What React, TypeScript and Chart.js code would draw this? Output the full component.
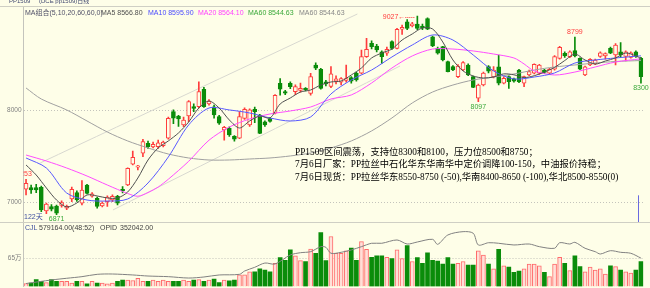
import React, { useEffect, useRef } from "react";
import { Chart, registerables } from "chart.js";

Chart.register(...registerables);

// ---------------- data ----------------
const opens = [
  7146, 7163, 7165, 7167, 6910, 6957, 6964, 6970, 6940, 7040,
  7109, 6995, 7192, 7070, 7048, 6965, 7011, 7030, 7070, 7145,
  7192, 7420, 7385, 7537, 7646, 7605, 7610, 7620, 7700, 7990,
  7942, 7845, 7942, 8045, 8043, 8233, 8073, 8043, 7935, 7790,
  7809, 7720, 7700, 7917, 7845, 8015, 7953, 7880, 7915, 7972,
  8298, 8207, 8298, 8207, 8220, 8243, 8189, 8497, 8450, 8315,
  8265, 8320, 8310, 8330, 8360, 8405, 8407, 8587, 8732, 8703,
  8641, 8624, 8750, 8678, 8885, 8967, 8921, 8942, 8920, 9000,
  8804, 8678, 8696, 8533, 8480, 8370, 8442, 8497, 8370, 8135,
  8279, 8480, 8370, 8478, 8298, 8370, 8345, 8442, 8298, 8390,
  8407, 8407, 8440, 8407, 8450, 8569, 8624, 8587, 8652, 8569,
  8388, 8497, 8507, 8590, 8595, 8678, 8605, 8640, 8590, 8580,
  8640, 8570,
];
const highs = [
  7253, 7192, 7200, 7180, 6995, 6980, 6975, 7020, 6975, 7170,
  7130, 7240, 7200, 7110, 7060, 7010, 7075, 7085, 7080, 7175,
  7380, 7560, 7405, 7690, 7670, 7660, 7680, 7670, 7930, 8010,
  7950, 7930, 8110, 8075, 8315, 8254, 8120, 8060, 7950, 7830,
  7825, 7730, 7989, 8030, 8020, 8040, 7960, 7890, 7925, 8175,
  8350, 8220, 8315, 8280, 8300, 8250, 8406, 8520, 8460, 8330,
  8480, 8380, 8360, 8497, 8370, 8420, 8660, 8787, 8760, 8720,
  8650, 8690, 8760, 8895, 8930, 8990, 8960, 9027, 8940, 9010,
  8810, 8690, 8700, 8540, 8490, 8500, 8535, 8510, 8375, 8290,
  8420, 8490, 8480, 8605, 8370, 8380, 8355, 8450, 8375, 8440,
  8510, 8505, 8450, 8460, 8600, 8700, 8640, 8650, 8799, 8575,
  8485, 8565, 8560, 8640, 8630, 8690, 8730, 8740, 8650, 8640,
  8650, 8580,
];
const lows = [
  7084, 7102, 7110, 6902, 6880, 6910, 6871, 6950, 6925, 7010,
  7015, 6975, 7095, 7060, 6940, 6955, 6960, 7010, 6975, 7105,
  7185, 7410, 7355, 7500, 7590, 7595, 7590, 7605, 7690, 7860,
  7830, 7826, 7880, 7990, 8030, 8035, 8060, 7920, 7850, 7680,
  7720, 7670, 7695, 7905, 7830, 7870, 7750, 7830, 7875, 7965,
  8170, 8175, 8240, 8175, 8200, 8215, 8170, 8445, 8235, 8270,
  8250, 8290, 8280, 8310, 8300, 8320, 8400, 8580, 8670, 8640,
  8515, 8600, 8665, 8670, 8830, 8880, 8910, 8880, 8880, 8880,
  8695, 8615, 8540, 8420, 8435, 8360, 8435, 8380, 8250, 8097,
  8270, 8410, 8355, 8280, 8290, 8243, 8310, 8305, 8260, 8380,
  8400, 8395, 8405, 8400, 8440, 8560, 8580, 8575, 8585, 8445,
  8380, 8490, 8500, 8580, 8560, 8620, 8497, 8580, 8540, 8570,
  8580, 8300,
];
const closes = [
  7211, 7138, 7138, 6921, 6985, 6930, 6885, 7000, 6960, 7146,
  7030, 7138, 7102, 7095, 6960, 6995, 7060, 7070, 6995, 7130,
  7374, 7493, 7400, 7663, 7610, 7635, 7650, 7660, 7917, 7920,
  7910, 7899, 8098, 8025, 8207, 8045, 8105, 7955, 7863, 7819,
  7736, 7690, 7935, 8015, 8008, 7990, 7754, 7845, 7882, 8166,
  8233, 8190, 8260, 8261, 8243, 8225, 8370, 8461, 8243, 8290,
  8400, 8345, 8350, 8350, 8320, 8335, 8587, 8667, 8696, 8660,
  8587, 8667, 8678, 8885, 8905, 8895, 8945, 8895, 8900, 8885,
  8703, 8624, 8551, 8424, 8442, 8485, 8522, 8388, 8254, 8279,
  8410, 8430, 8440, 8298, 8352, 8315, 8320, 8315, 8370, 8424,
  8505, 8497, 8415, 8450, 8587, 8689, 8595, 8641, 8595, 8450,
  8478, 8558, 8551, 8630, 8620, 8624, 8714, 8605, 8640, 8630,
  8590, 8370,
];
// volume in 万手
const volumes = [
  7, 8, 16, 12, 9, 16, 12, 12, 12, 8,
  12, 12, 6, 12, 8, 8, 6, 8, 12, 15,
  15, 14, 19, 12, 12, 15, 12, 15, 12, 12,
  12, 15, 12, 15, 16, 12, 15, 17, 9, 15,
  13, 15, 27, 27, 34, 34, 41, 38, 34, 54,
  67, 61, 85, 71, 60, 58, 87, 77, 125, 60,
  116, 77, 77, 83, 89, 61, 104, 86, 68, 71,
  71, 68, 65, 85, 65, 95, 58, 67, 54, 78,
  61, 59, 52, 67, 52, 54, 58, 50, 50, 83,
  73, 52, 41, 86, 48, 45, 33, 36, 41, 52,
  52, 48, 33, 23, 52, 68, 54, 37, 71, 46,
  34, 45, 38, 41, 29, 48, 46, 38, 34, 31,
  38, 57.9,
];
const days = opens.map((_, i) => String(i + 1));

// moving averages: [day index, value]
const ma5: [number, number][] = [
  [0, 7410], [2, 7301], [4, 7160], [6, 7029], [8, 6953], [10, 6997], [12, 7084], [14, 7073],
  [16, 7051], [18, 7051], [20, 7116], [22, 7268], [24, 7464], [26, 7595], [28, 7671], [30, 7758],
  [32, 7877], [34, 8029], [36, 8105], [38, 8029], [40, 7899], [42, 7812], [44, 7888], [46, 7942],
  [48, 7921], [50, 8073], [52, 8138], [54, 8203], [56, 8225], [58, 8279], [60, 8312], [62, 8323],
  [64, 8388], [66, 8464], [68, 8573], [70, 8627], [72, 8670], [74, 8768], [76, 8834], [78, 8899],
  [80, 8888], [82, 8747], [84, 8551], [86, 8432], [88, 8377], [90, 8355], [92, 8366], [94, 8400],
  [96, 8390], [98, 8360], [100, 8380], [102, 8420], [104, 8470], [106, 8545], [108, 8616], [110, 8551],
  [112, 8507], [114, 8540], [116, 8573], [118, 8627], [120, 8595], [121, 8567],
];
const ma10: [number, number][] = [
  [0, 7486], [4, 7377], [8, 7105], [12, 7029], [16, 7018], [20, 7040], [24, 7214], [28, 7497],
  [32, 7845], [36, 8029], [40, 8008], [44, 7975], [48, 7921], [52, 7888], [56, 7932], [60, 8182],
  [64, 8334], [68, 8442], [72, 8584], [76, 8714], [80, 8823], [84, 8768], [88, 8605], [92, 8432],
  [96, 8345], [100, 8366], [104, 8410], [108, 8518], [112, 8551], [116, 8573], [121, 8596],
];
const ma20: [number, number][] = [
  [0, 7518], [4, 7453], [8, 7377], [12, 7290], [16, 7192], [20, 7100], [22, 7070], [24, 7110],
  [26, 7170], [28, 7255], [32, 7450], [36, 7679], [40, 7822], [44, 7910], [48, 7964], [52, 7997],
  [56, 8040], [60, 8127], [64, 8171], [68, 8301], [72, 8464], [76, 8595], [80, 8670], [84, 8670],
  [88, 8649], [92, 8616], [96, 8573], [98, 8508], [100, 8432], [104, 8388], [108, 8420], [112, 8475],
  [116, 8529], [121, 8564],
];
const ma60: [number, number][] = [
  [0, 8247], [3, 8127], [8, 8008], [12, 7888], [16, 7768], [20, 7671], [24, 7595], [28, 7529],
  [32, 7486], [36, 7464], [40, 7464], [44, 7475], [48, 7486], [52, 7508], [56, 7540], [60, 7595],
  [64, 7671], [68, 7780], [72, 7921], [76, 8084], [80, 8203], [84, 8279], [88, 8334], [92, 8366],
  [96, 8399], [100, 8442], [104, 8475], [108, 8497], [112, 8518], [116, 8535], [121, 8545],
];
// open interest (持仓)
const opid: [number, number][] = [
  [0, 37000], [5, 81000], [8, 102000], [11, 122000], [14, 151000], [17, 155000], [21, 143000],
  [24, 130000], [28, 122000], [32, 105000], [35, 118000], [38, 143000], [42, 151000], [43, 192000],
  [45, 238000], [47, 291000], [49, 279000], [52, 391000], [54, 419000], [56, 432000], [58, 494000],
  [59, 486000], [60, 412000], [62, 424000], [64, 453000], [66, 494000], [68, 536000], [70, 536000],
  [73, 577000], [75, 527000], [77, 552000], [80, 585000], [81, 523000], [83, 639000], [86, 680000],
  [88, 660000], [89, 515000], [91, 543000], [93, 536000], [96, 515000], [99, 527000], [101, 494000],
  [104, 474000], [105, 543000], [107, 527000], [108, 548000], [110, 474000], [112, 432000],
  [113, 403000], [115, 444000], [117, 424000], [119, 412000], [121, 352042],
];
// trend channel drawn on the chart
const channelUpper: [number, number][] = [[2.8, 7432], [65.2, 9051]];
const channelLower: [number, number][] = [[17.1, 6921], [73.6, 8486]];

const priceTicks = [7000, 8000];
const volumeTicks = [65];
const pricePaneBottom = 6790; // lower edge of the price pane
const cursorDay = 120.5;
const cursorFrom = 7080;

const RED = "#ff3c3c";
const GREEN = "#0a8c0a";
const GREEN_TXT = "#3aa83a";
const BG = "#fefee8";
const VOL_RED_FILL = "#ffe0d8";
const VOL_RED_LINE = "#ff6a6a";
const GRID = "#c4c4bc";

const markers = [
  { i: 0, v: 7253, side: "above", color: RED, dx: -2 },
  { i: 6, v: 6871, side: "below", color: GREEN_TXT, dx: 0 },
  { i: 77, v: 9027, side: "left", color: RED, dx: 0 },
  { i: 89, v: 8097, side: "below", color: GREEN_TXT, dx: 0 },
  { i: 108, v: 8799, side: "above", color: RED, dx: 0 },
  { i: 121, v: 8300, side: "below", color: GREEN_TXT, dx: 0 },
];

const SANS = "'Liberation Sans', 'Noto Sans CJK SC', sans-serif";

const overlayPlugin = {
  id: "overlay",
  beforeDatasetsDraw(chart: any) {
    const { ctx, chartArea, scales } = chart;
    ctx.save();
    ctx.strokeStyle = "#cfcfc4";
    ctx.lineWidth = 1;
    ctx.beginPath();
    const t = Math.round(chartArea.top) - 0.5;
    ctx.moveTo(0, t);
    ctx.lineTo(chart.width, t);
    const s = Math.round(scales.y.getPixelForValue(pricePaneBottom)) + 0.5;
    ctx.moveTo(0, s);
    ctx.lineTo(chart.width, s);
    ctx.stroke();
    // volume pane grid + labels
    ctx.strokeStyle = GRID;
    ctx.setLineDash([1, 2]);
    ctx.fillStyle = "#808080";
    ctx.font = "6.5px " + SANS;
    ctx.textAlign = "right";
    ctx.textBaseline = "middle";
    for (const v of volumeTicks) {
      const y = Math.round(scales.yv.getPixelForValue(v)) + 0.5;
      ctx.beginPath();
      ctx.moveTo(chartArea.left, y);
      ctx.lineTo(chartArea.right, y);
      ctx.stroke();
      ctx.fillText(v + "万", chartArea.left - 2, y);
    }
    ctx.setLineDash([]);
    ctx.restore();
  },
  afterDatasetsDraw(chart: any) {
    const { ctx, chartArea, scales } = chart;
    ctx.save();
    ctx.beginPath();
    ctx.rect(chartArea.left, 0, chart.width - chartArea.left, chart.height);
    ctx.clip();
    ctx.font = "7px " + SANS;
    for (const m of markers) {
      const x = scales.x.getPixelForValue(m.i) + m.dx;
      const y = scales.y.getPixelForValue(m.v);
      ctx.fillStyle = m.color;
      if (m.side === "above") {
        ctx.textAlign = "center";
        ctx.textBaseline = "bottom";
        ctx.fillText(String(m.v), x, y - 1.5);
      } else if (m.side === "below") {
        ctx.textAlign = "center";
        ctx.textBaseline = "top";
        ctx.fillText(String(m.v), x, y + 1.5);
      } else {
        ctx.textAlign = "right";
        ctx.textBaseline = "middle";
        ctx.fillText(String(m.v) + "←", x - 12, y + 1);
        ctx.strokeStyle = m.color;
        ctx.lineWidth = 1;
        ctx.setLineDash([1, 1]);
        ctx.beginPath();
        ctx.moveTo(x - 12, Math.round(y + 1) + 0.5);
        ctx.lineTo(x - 2, Math.round(y + 1) + 0.5);
        ctx.stroke();
        ctx.setLineDash([]);
      }
    }
    // cursor line between the last two sessions
    const cx =
      Math.round(
        (scales.x.getPixelForValue(Math.floor(cursorDay)) + scales.x.getPixelForValue(Math.ceil(cursorDay))) / 2
      ) + 0.5;
    ctx.strokeStyle = "#6a6ae0";
    ctx.lineWidth = 1;
    ctx.beginPath();
    ctx.moveTo(cx, scales.y.getPixelForValue(cursorFrom));
    ctx.lineTo(cx, scales.y.getPixelForValue(pricePaneBottom));
    ctx.stroke();
    ctx.restore();
  },
};

export default function App() {
  const ref = useRef<HTMLCanvasElement | null>(null);

  useEffect(() => {
    if (!ref.current) return;
    const up = closes.map((c, i) => c >= opens[i]);
    const pts = (arr: [number, number][]) => arr.map(([x, y]) => ({ x, y }));
    const line = (arr: [number, number][], color: string, yAxisID = "y", order = 1) => ({
      type: "line" as const,
      data: pts(arr),
      xAxisID: "xl",
      yAxisID,
      borderColor: color,
      borderWidth: 1,
      pointRadius: 0,
      tension: 0.3,
      order,
    });

    const chart = new Chart(ref.current, {
      type: "bar",
      data: {
        labels: days,
        datasets: [
          line(channelLower, "#d8d8d0", "y", 9) as any,
          line(channelUpper, "#d8d8d0", "y", 9) as any,
          {
            type: "bar",
            data: lows.map((l, i) => [l, highs[i]]),
            backgroundColor: up.map((u) => (u ? RED : GREEN)),
            borderWidth: 0,
            barThickness: 1,
            grouped: false,
            yAxisID: "y",
            xAxisID: "x",
            order: 6,
          } as any,
          {
            type: "bar",
            data: opens.map((o, i) => [o, closes[i]]),
            backgroundColor: up.map((u) => (u ? BG : GREEN)),
            borderColor: up.map((u) => (u ? RED : GREEN)),
            borderWidth: 1,
            borderSkipped: false,
            barThickness: 4,
            grouped: false,
            yAxisID: "y",
            xAxisID: "x",
            order: 5,
          } as any,
          {
            type: "bar",
            data: volumes,
            backgroundColor: up.map((u) => (u ? VOL_RED_FILL : GREEN)),
            borderColor: up.map((u) => (u ? VOL_RED_LINE : GREEN)),
            borderWidth: up.map((u) => (u ? 1 : 0)),
            borderSkipped: "start",
            barThickness: 4,
            grouped: false,
            yAxisID: "yv",
            xAxisID: "x",
            order: 5,
          } as any,
          line(opid, "#808080", "yo", 2) as any,
          line(ma60, "#a0a0a0", "y", 4) as any,
          line(ma20, "#ff4cff", "y", 3) as any,
          line(ma10, "#5858ff", "y", 2) as any,
          line(ma5, "#505050", "y", 1) as any,
        ],
      },
      options: {
        responsive: false,
        animation: false,
        events: [],
        layout: { padding: { left: 0, top: 7, right: 6.5, bottom: 1.5 } },
        plugins: { legend: { display: false }, tooltip: { enabled: false } },
        scales: {
          x: { type: "category", display: false, offset: true, grid: { display: false } },
          xl: {
            type: "linear",
            display: false,
            offset: false,
            min: -0.5,
            max: 121.5,
            grid: { offset: false, display: false },
          },
          y: {
            type: "linear",
            position: "left",
            min: 6089,
            max: 9127,
            afterBuildTicks: (s: any) => {
              s.ticks = priceTicks.map((v) => ({ value: v }));
            },
            afterFit: (s: any) => {
              s.width = 23.5;
              s.paddingTop = 0;
              s.paddingBottom = 0;
            },
            ticks: {
              font: { size: 6.5, family: SANS },
              color: "#808080",
              padding: 2,
              callback: (v: any) => String(v),
            },
            grid: { color: GRID, drawTicks: false },
            border: { display: true, color: GRID, dash: [1, 2] },
          },
          yv: { type: "linear", display: false, min: 0, max: 648.8 },
          yo: { type: "linear", display: false, min: 0, max: 3466000 },
        },
      } as any,
      plugins: [overlayPlugin],
    });
    return () => chart.destroy();
  }, []);

  const abs = (left: number, top: number, extra: React.CSSProperties = {}): React.CSSProperties => ({
    position: "absolute",
    left,
    top,
    whiteSpace: "nowrap",
    lineHeight: 1,
    ...extra,
  });

  return (
    <div
      style={{
        position: "absolute",
        left: 0,
        top: 0,
        width: 650,
        height: 288,
        overflow: "hidden",
        background: BG,
        fontFamily: SANS,
      }}
    >
      <canvas ref={ref} width={650} height={288} style={{ position: "absolute", left: 0, top: 0 }} />
      <div style={abs(9, -2, { fontSize: 6, color: "#404870" })}>PP1509</div>
      <div style={abs(39, -2, { fontSize: 6, color: "#404870" })}>(DCE pp1509)日线</div>

      <div style={abs(25, 8.5, { fontSize: 7, color: "#505068" })}>MA组合(5,10,20,60,60,0)</div>
      <div style={abs(101, 8.5, { fontSize: 7, color: "#505050" })}>MA5 8566.80</div>
      <div style={abs(148, 8.5, { fontSize: 7, color: "#4a4aff" })}>MA10 8595.90</div>
      <div style={abs(198, 8.5, { fontSize: 7, color: "#ff40ff" })}>MA20 8564.10</div>
      <div style={abs(248, 8.5, { fontSize: 7, color: "#3aa83a" })}>MA60 8544.63</div>
      <div style={abs(299, 8.5, { fontSize: 7, color: "#888888" })}>MA60 8544.63</div>

      <div style={abs(24, 213, { fontSize: 7, color: "#4050a0" })}>122天</div>

      <div style={abs(25, 224, { fontSize: 7, color: "#4050a0" })}>CJL</div>
      <div style={abs(39, 224, { fontSize: 7, color: "#404040" })}>579164.00(48:52)</div>
      <div style={abs(100, 224, { fontSize: 7, color: "#404040" })}>OPID</div>
      <div style={abs(120, 224, { fontSize: 7, color: "#404040" })}>352042.00</div>

      <div
        style={{
          position: "absolute",
          left: 295,
          top: 145.5,
          fontSize: 9.3,
          lineHeight: "12.5px",
          color: "#000000",
          whiteSpace: "nowrap",
          fontFamily: "'Liberation Serif', 'Noto Sans CJK SC', serif",
        }}
      >
        <div>PP1509区间震荡，支持位8300和8100，压力位8500和8750；</div>
        <div>7月6日厂家：PP拉丝中石化华东华南华中定价调降100-150，中油报价持稳；</div>
        <div>7月6日现货：PP拉丝华东8550-8750 (-50),华南8400-8650 (-100),华北8500-8550(0)</div>
      </div>
    </div>
  );
}
